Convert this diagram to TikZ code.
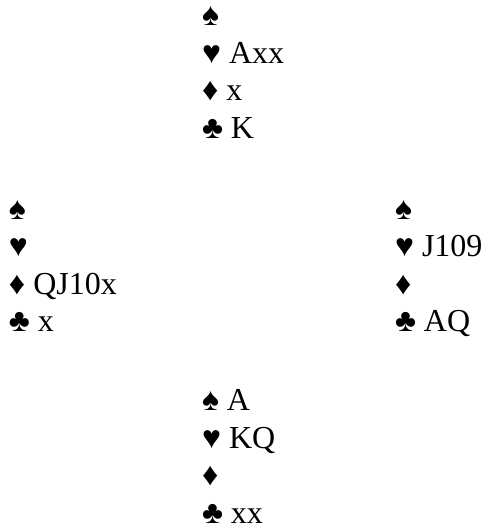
\documentclass[tikz,border=0pt]{standalone}
\usepackage{fontspec}
\setmainfont{Liberation Serif}
\begin{document}
\begin{tikzpicture}[x=1pt,y=1pt]
\tikzset{suitline/.style={anchor=base west,inner sep=0pt,outer sep=0pt,font=\fontsize{32}{37}\selectfont}}
\path[use as bounding box,fill=white] (0,0) rectangle (484,529);

% north
\node[suitline] (nS) at (202,503.0) {♠};
\node[suitline] (nH) at (202,465.5) {♥ Axx};
\node[suitline] (nD) at (202,428.0) {♦ x};
\node[suitline] (nC) at (202,390.5) {♣ K};

% west
\node[suitline] (wS) at (  9,309.5) {♠};
\node[suitline] (wH) at (  9,272.0) {♥};
\node[suitline] (wD) at (  9,234.5) {♦ QJ10x};
\node[suitline] (wC) at (  9,197.0) {♣ x};

% east
\node[suitline] (eS) at (395,309.5) {♠};
\node[suitline] (eH) at (395,272.0) {♥ J109};
\node[suitline] (eD) at (395,234.5) {♦};
\node[suitline] (eC) at (395,197.0) {♣ AQ};

% south
\node[suitline] (sS) at (202,118.0) {♠ A};
\node[suitline] (sH) at (202, 80.5) {♥ KQ};
\node[suitline] (sD) at (202, 43.0) {♦};
\node[suitline] (sC) at (202,  5.5) {♣ xx};
\end{tikzpicture}
\end{document}
